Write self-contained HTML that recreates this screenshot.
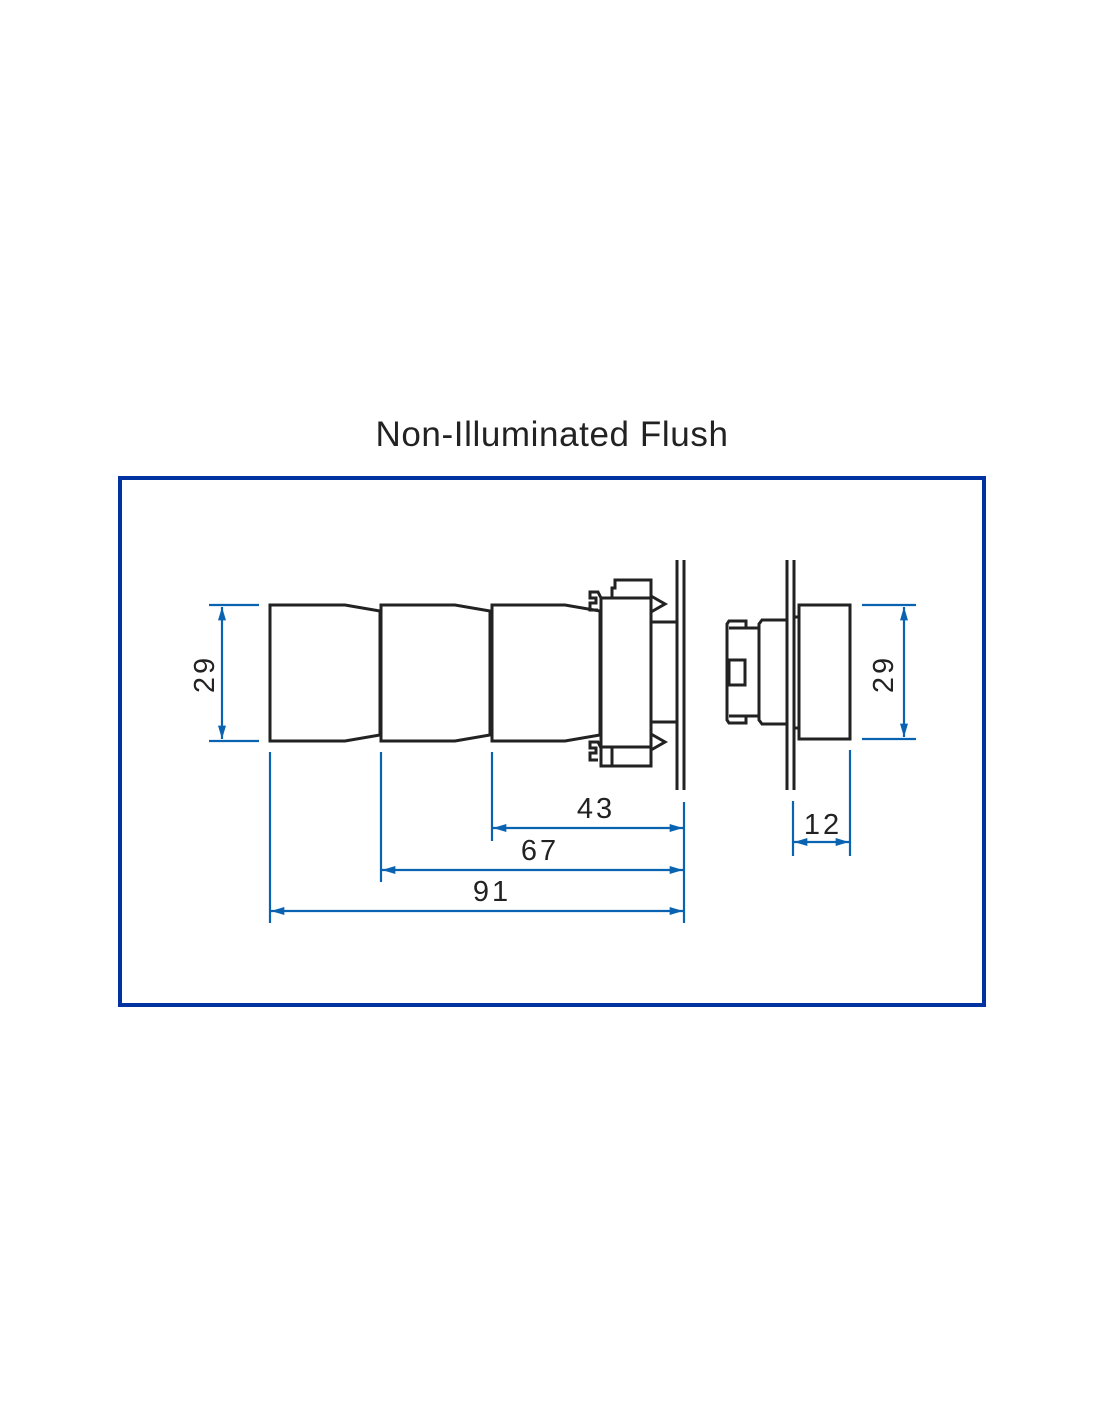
<!DOCTYPE html>
<html><head><meta charset="utf-8"><style>
html,body{margin:0;padding:0;background:#fff;}
svg{display:block;}
</style></head><body>
<svg width="1100" height="1422" viewBox="0 0 1100 1422" xmlns="http://www.w3.org/2000/svg">
<defs>
<marker id="a" viewBox="0 0 10 6" refX="10" refY="3" markerWidth="16" markerHeight="8" markerUnits="userSpaceOnUse" orient="auto-start-reverse"><path d="M0,0 L10,3 L0,6 z" fill="#0a63b0"/></marker>
</defs>
<text x="552" y="446" font-family="Liberation Sans, sans-serif" font-size="35" letter-spacing="0.6" text-anchor="middle" fill="#222">Non-Illuminated Flush</text>
<rect x="120" y="478" width="864" height="527" fill="none" stroke="#0033a0" stroke-width="4"/>

<g fill="none" stroke="#222" stroke-width="3" stroke-linejoin="miter">
<path d="M345,605 L270,605 L270,741 L345,741 L380,735 L380,611 Z"/>
<path d="M455,605 L381,605 L381,741 L455,741 L490,735 L490,611 Z"/>
<path d="M565,605 L492,605 L492,741 L565,741 L600,735 L600,611 Z"/>
<rect x="601" y="598" width="50" height="168"/>
<line x1="601" y1="747" x2="651" y2="747"/>
<path d="M612,598 L612,588 L615,588 L615,580 L651,580 L651,598"/>
<path d="M612,747 L612,766"/>
<path d="M601,598 L598,592 L590,592 L590,598 L596,598 L596,603 L590,603 L590,610 L598,610"/>
<path d="M601,748 L598,742 L590,742 L590,748 L596,748 L596,753 L590,753 L590,760 L598,760"/>
<path d="M651,596 L665,604 L651,612"/>
<path d="M651,734 L665,742 L651,750"/>
<line x1="651" y1="622" x2="677" y2="622"/>
<line x1="651" y1="722" x2="677" y2="722"/>
<line x1="677" y1="560" x2="677" y2="790"/>
<line x1="684" y1="560" x2="684" y2="790"/>

<line x1="787" y1="560" x2="787" y2="790"/>
<line x1="794" y1="560" x2="794" y2="790"/>
<rect x="799" y="605" width="51" height="134"/>
<line x1="794" y1="617" x2="799" y2="617"/>
<line x1="794" y1="728" x2="799" y2="728"/>
<path d="M787,620 L762,620 L759,624 L759,720 L762,724 L787,724"/>
<line x1="759" y1="624" x2="759" y2="720"/>
<path d="M759,628 L746,628 L746,621 L729,621 L727,624 L727,720 L729,723 L746,723 L746,716 L759,716"/>
<line x1="729" y1="628" x2="746" y2="628"/>
<line x1="729" y1="716" x2="746" y2="716"/>
<rect x="729" y="660" width="16" height="25"/>
</g>

<g stroke="#0a63b0" stroke-width="2.2" fill="none">
<line x1="209" y1="605" x2="259" y2="605"/>
<line x1="209" y1="741" x2="259" y2="741"/>
<line x1="222" y1="607" x2="222" y2="739" marker-start="url(#a)" marker-end="url(#a)"/>
<line x1="862" y1="605" x2="916" y2="605"/>
<line x1="862" y1="739" x2="916" y2="739"/>
<line x1="904" y1="607" x2="904" y2="737" marker-start="url(#a)" marker-end="url(#a)"/>

<line x1="270" y1="752" x2="270" y2="923"/>
<line x1="381" y1="752" x2="381" y2="882"/>
<line x1="492" y1="752" x2="492" y2="841"/>
<line x1="684" y1="802" x2="684" y2="923"/>
<line x1="493" y1="828" x2="683" y2="828" marker-start="url(#a)" marker-end="url(#a)"/>
<line x1="382" y1="870" x2="683" y2="870" marker-start="url(#a)" marker-end="url(#a)"/>
<line x1="271" y1="911" x2="683" y2="911" marker-start="url(#a)" marker-end="url(#a)"/>

<line x1="793" y1="801" x2="793" y2="856"/>
<line x1="850" y1="750" x2="850" y2="856"/>
<line x1="794" y1="842" x2="849" y2="842" marker-start="url(#a)" marker-end="url(#a)"/>
</g>

<g font-family="Liberation Sans, sans-serif" font-size="29" fill="#222" text-anchor="middle" letter-spacing="3">
<text x="596" y="818">43</text>
<text x="540" y="860">67</text>
<text x="492" y="901">91</text>
<text x="823" y="834">12</text>
<text transform="translate(214,674) rotate(-90)">29</text>
<text transform="translate(893,674) rotate(-90)">29</text>
</g>
</svg>
</body></html>
